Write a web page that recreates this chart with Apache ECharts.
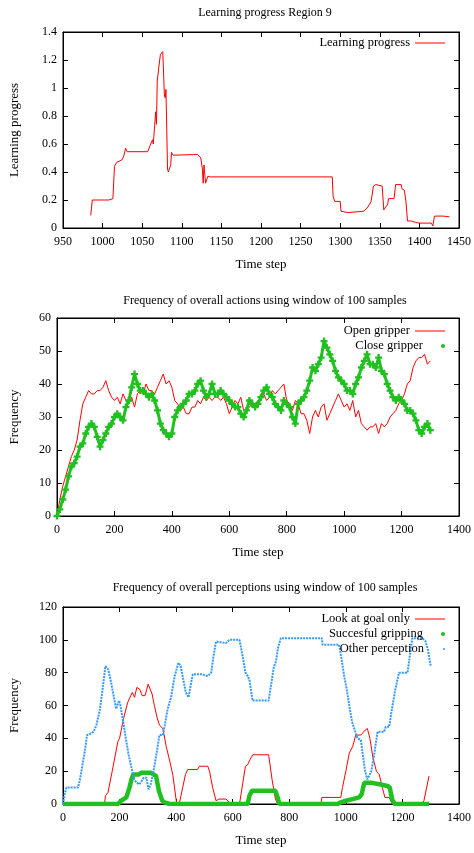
<!DOCTYPE html>
<html>
<head>
<meta charset="utf-8">
<script src="https://cdn.jsdelivr.net/npm/echarts/dist/echarts.min.js"></script>
<style>
html, body { margin: 0; padding: 0; background: #fff; }
#main { width: 474px; height: 853px; }
</style>
</head>
<body>
<div id="main"></div>
<script>
// chart 1 : learning progress, region 9
var lpT = [985,987,1008,1010,1013,1015,1018,1022,1025,1027,1029,1031,1057,1060,1062,1063,1064,1066,1067,1068,
  1069,1071,1073,1076,1078,1079,1080,1082,1083,1086,1087,1089,1120,1122,1124,1126,1127,1128,1130,1133,
  1136,1290,1291,1293,1300,1301,1310,1312,1330,1335,1337,1339,1342,1345,1347,1353,1355,1357,1360,1361,
  1368,1370,1377,1378,1381,1383,1385,1390,1395,1400,1415,1417,1419,1430,1431,1438];
var lpV = [0.09,0.2,0.2,0.21,0.21,0.44,0.47,0.48,0.49,0.52,0.57,0.545,0.545,0.59,0.6,0.63,0.6,0.75,0.83,0.74,
  1.05,1.15,1.24,1.26,0.95,0.93,0.99,0.42,0.4,0.45,0.54,0.52,0.525,0.53,0.5,0.42,0.32,0.45,0.32,0.37,
  0.365,0.365,0.23,0.19,0.19,0.12,0.11,0.12,0.12,0.15,0.17,0.19,0.3,0.31,0.3,0.3,0.13,0.14,0.17,0.21,
  0.21,0.31,0.31,0.28,0.27,0.19,0.05,0.05,0.04,0.035,0.035,0.015,0.085,0.085,0.075,0.08];

// chart 2 : actions
var actT = [0,10,20,30,40,50,60,70,80,90,100,110,120,130,140,150,160,170,180,190,
  200,210,220,230,240,250,260,270,280,290,300,310,320,330,340,350,360,370,380,390,
  400,410,420,430,440,450,460,470,480,490,500,510,520,530,540,550,560,570,580,590,
  600,610,620,630,640,650,660,670,680,690,700,710,720,730,740,750,760,770,780,790,
  800,810,820,830,840,850,860,870,880,890,900,910,920,930,940,950,960,970,980,990,
  1000,1010,1020,1030,1040,1050,1060,1070,1080,1090,1100,1110,1120,1130,1140,1150,1160,1170,1180,1190,
  1200,1210,1220,1230,1240,1250,1260,1270,1280,1290,1300];
var openV = [0,5,9,12,15,18,20,23,29,34,36,38,37,37,38,38,39,41,38,36,
  35,36,34,37,35,34,36,33,37,38,37,40,38,38,37,39,41,43,40,41,
  39,35,34,32,33,31,31,33,33,35,34,36,35,36,35,36,36,35,36,34,
  31,33,35,34,36,32,32,33,34,34,35,35,37,35,36,38,37,38,39,40,
  35,34,32,35,34,31,31,29,25,30,32,30,33,34,29,31,33,35,37,35,
  33,34,32,35,30,32,28,27,26,27,27,28,25,28,27,28,30,31,32,34,
  35,37,40,41,45,47,48,48,49,46,47];
var closeV = [0,2,5,8,12,15,16,18,21,22,25,27,28,27,24,21,23,25,27,28,
  30,31,30,29,33,35,39,43,40,38,38,37,36,37,35,32,28,26,25,24,
  25,30,32,33,34,35,37,37,38,40,41,38,36,37,40,37,37,38,37,36,
  35,34,33,33,31,30,32,35,34,33,34,36,38,39,37,36,34,33,32,35,
  34,33,30,28,34,35,36,38,41,45,44,46,48,53,51,49,47,44,42,41,
  40,38,38,37,40,42,45,47,49,46,46,45,48,44,43,40,38,36,35,36,
  35,34,32,32,31,29,26,25,27,28,26];

// chart 3 : perceptions
var goalT = [0,147,150,159,174,194,200,206,214,229,235,245,253,261,271,280,290,301,315,323,
  332,341,353,365,379,388,402,412,418,433,441,476,482,512,518,529,541,551,576,588,
  600,624,630,645,653,661,671,727,739,751,759,912,915,982,988,1000,1012,1016,1024,1035,
  1053,1068,1076,1085,1096,1108,1118,1129,1138,1153,1165,1268,1276,1294];
var goalV = [0,0,5,7,20,38,40,45,52,62,63,68,65,71,70,66,66,73,67,60,
  53,48,46,35,25,18,0,1,1,18,21,21,23,23,20,10,2,3,3,1,
  0,0,1,23,24,27,30,30,15,3,0,0,4,4,10,20,31,30,35,42,
  42,45,46,40,28,20,18,10,4,4,0,0,2,17];
var gripT = [0,194,206,224,235,242,249,268,276,312,329,339,351,359,376,653,659,668,751,759,
  765,971,982,1000,1024,1047,1056,1065,1071,1088,1118,1147,1155,1165,1174,1294];
var gripV = [0,0,2,4,10,15,18,18,19,19,17,8,2,1,0,0,5,8,8,4,
  0,0,1,2,3,4,6,13,14,13,12,11,10,2,0,0];
var otherT = [0,6,12,53,60,70,78,85,100,108,118,130,140,150,160,170,180,188,193,198,
  203,212,222,232,242,252,259,270,278,285,295,302,310,320,330,341,353,360,370,382,
  395,408,416,425,434,444,452,459,490,495,512,524,532,541,576,588,624,635,645,653,
  660,670,727,735,745,753,760,770,915,918,976,985,994,1003,1012,1022,1041,1053,1060,1068,
  1076,1082,1090,1100,1112,1135,1141,1153,1163,1175,1188,1218,1226,1235,1271,1282,1290,1300];
var otherV = [0,6,10,10,15,25,33,42,43,44,48,57,70,84,82,74,65,58,59,63,
  60,51,40,30,22,15,13,12,14,16,16,9,12,20,30,42,42,48,58,65,
  78,86,84,76,68,65,73,79,79,78,78,80,90,99,98,100,100,90,80,78,
  75,63,63,72,83,87,95,101,101,97,97,88,78,70,60,50,40,39,30,20,
  15,14,20,30,44,44,47,47,58,70,80,80,90,101,101,99,94,84];

var titles = ['Learning progress Region 9',
  'Frequency of overall actions using window of 100 samples',
  'Frequency of overall perceptions using window of 100 samples'];

function pairs(xs, ys) {
  return xs.map(function (x, i) { return [x, ys[i]]; });
}

var font = 'Liberation Serif';
var red = '#ff0000', green = '#1fc01f', blue = '#3399ff';

var grids = [
  {left: 62, right: 14, top: 32, height: 196},
  {left: 56, right: 14, top: 318, height: 198},
  {left: 62, right: 14, top: 607, height: 197}
];
grids.forEach(function (g) { g.show = true; g.borderColor = '#000'; g.borderWidth = 1; g.backgroundColor = 'transparent'; });

var xRange = [[950, 1450, 50], [0, 1400, 200], [0, 1400, 200]];
var yRange = [[0, 1.4, 0.2], [0, 60, 10], [0, 120, 20]];
var yNames = ['Learning progress', 'Frequency', 'Frequency'];
var yGaps = [42, 36, 42];
var titleTops = [2, 290, 577];

var xAxes = [], yAxes = [], titleList = [];
var lineAx = {show: true, onZero: false, lineStyle: {color: '#000', width: 1}};
var tickIn = {show: true, inside: true, length: 5, lineStyle: {color: '#000'}};
var plain = function (v) { return String(v); };

for (var i = 0; i < 3; i++) {
  xAxes.push({
    type: 'value', gridIndex: i, min: xRange[i][0], max: xRange[i][1], interval: xRange[i][2],
    name: 'Time step', nameLocation: 'middle', nameGap: 30,
    nameTextStyle: {fontFamily: font, fontSize: 13, color: '#000'},
    axisLine: lineAx, axisTick: tickIn, splitLine: {show: false},
    axisLabel: {fontFamily: font, fontSize: 12, color: '#000', margin: 8, formatter: plain}
  });
  yAxes.push({
    type: 'value', gridIndex: i, min: yRange[i][0], max: yRange[i][1], interval: yRange[i][2],
    name: yNames[i], nameLocation: 'middle', nameGap: yGaps[i],
    nameTextStyle: {fontFamily: font, fontSize: 13, color: '#000'},
    axisLine: lineAx, axisTick: tickIn, splitLine: {show: false},
    axisLabel: {fontFamily: font, fontSize: 12, color: '#000', margin: 6, formatter: plain}
  });
  titleList.push({
    text: titles[i], left: 260, top: titleTops[i], textAlign: 'center',
    textStyle: {fontFamily: font, fontSize: 12, fontWeight: 'normal', color: '#000'}
  });
}
// mirrored frame: top and right axes, ticks only
for (var j = 0; j < 3; j++) {
  xAxes.push({
    type: 'value', gridIndex: j, position: 'top', min: xRange[j][0], max: xRange[j][1], interval: xRange[j][2],
    axisLine: lineAx, axisTick: tickIn, axisLabel: {show: false}, splitLine: {show: false}
  });
  yAxes.push({
    type: 'value', gridIndex: j, position: 'right', min: yRange[j][0], max: yRange[j][1], interval: yRange[j][2],
    axisLine: lineAx, axisTick: tickIn, axisLabel: {show: false}, splitLine: {show: false}
  });
}

function legendAt(name, top, icon, h) {
  return {
    data: [{name: name, icon: icon}], right: 29, top: top, align: 'right', itemWidth: 30, itemHeight: h,
    itemGap: 0, selectedMode: false, padding: 0,
    textStyle: {fontFamily: font, fontSize: 12.5, color: '#000', lineHeight: 14}
  };
}

var plus = 'path://M2,0H4V2H6V4H4V6H2V4H0V2H2Z';

var seriesList = [
  {
    name: 'Learning progress', type: 'line', xAxisIndex: 0, yAxisIndex: 0,
    symbol: 'none', color: red, lineStyle: {width: 1, color: red},
    data: pairs(lpT, lpV)
  },
  {
    name: 'Open gripper', type: 'line', xAxisIndex: 1, yAxisIndex: 1,
    symbol: 'none', color: red, lineStyle: {width: 1, color: red},
    data: pairs(actT, openV)
  },
  {
    name: 'Close gripper', type: 'line', xAxisIndex: 1, yAxisIndex: 1,
    symbol: plus, symbolSize: 7, showSymbol: true, color: green,
    itemStyle: {color: green}, lineStyle: {width: 3, color: green},
    data: pairs(actT, closeV)
  },
  {
    name: 'Look at goal only', type: 'line', xAxisIndex: 2, yAxisIndex: 2,
    symbol: 'none', color: red, lineStyle: {width: 1, color: red},
    data: pairs(goalT, goalV)
  },
  {
    name: 'Succesful gripping', type: 'line', xAxisIndex: 2, yAxisIndex: 2,
    symbol: 'none', color: green, lineStyle: {width: 4.5, color: green},
    data: pairs(gripT, gripV)
  },
  {
    name: 'Other perception', type: 'line', xAxisIndex: 2, yAxisIndex: 2,
    symbol: 'none', color: blue, lineStyle: {width: 2, color: blue, type: [2, 1]},
    data: pairs(otherT, otherV)
  }
];
// empty series so the mirror axes get drawn
for (var k = 0; k < 3; k++) {
  seriesList.push({type: 'line', xAxisIndex: 3 + k, yAxisIndex: 3 + k, data: [], silent: true});
}

var option = {
  backgroundColor: '#fff',
  animation: false,
  title: titleList,
  grid: grids,
  xAxis: xAxes,
  yAxis: yAxes,
  legend: [
    legendAt('Learning progress', 36, 'rect', 1),
    legendAt('Open gripper', 324, 'rect', 1),
    legendAt('Close gripper', 339, 'circle', 4),
    legendAt('Look at goal only', 612, 'rect', 1),
    legendAt('Succesful gripping', 627, 'circle', 4),
    legendAt('Other perception', 642, 'circle', 2)
  ],
  series: seriesList
};

var myChart = echarts.init(document.getElementById('main'));
myChart.setOption(option);
</script>
</body>
</html>
